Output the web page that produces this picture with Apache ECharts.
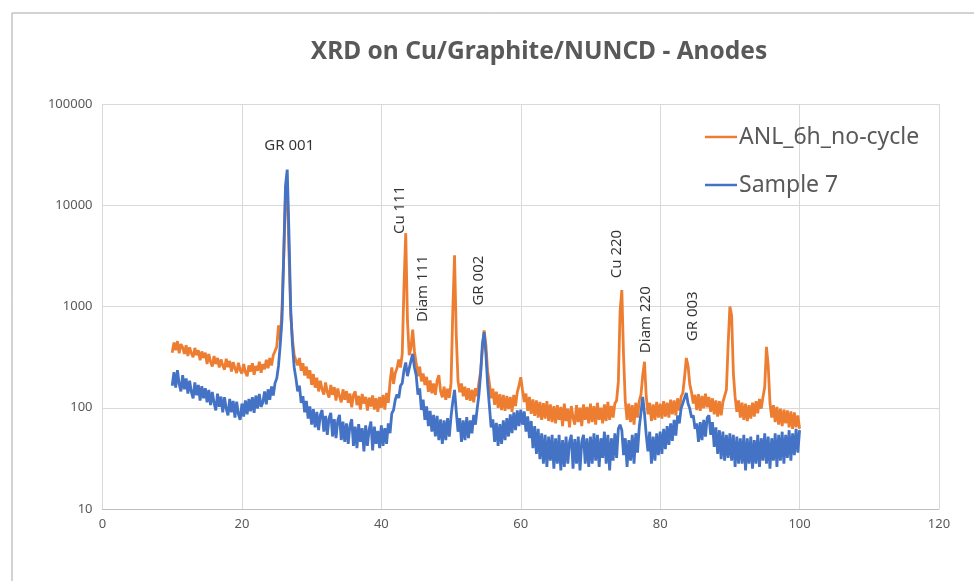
<!DOCTYPE html>
<html>
<head>
<meta charset="utf-8">
<script src="https://cdn.jsdelivr.net/npm/echarts@6/dist/echarts.min.js"></script>
<style>html,body{margin:0;padding:0;background:#fff}#c{width:974px;height:581px}</style>
</head>
<body>
<div id="c"></div>
<script>
// two-theta sampling grid (degrees)
const thetaStart = 10;
const thetaStep = 0.25;

// ANL_6h_no-cycle intensities, one value per 0.25 deg from 10 to 100
const anl = [
 350,440,370,455,345,425,395,340,415,325,395,345,315,390,330,370,295,360,310,350,
 270,340,285,255,325,270,310,250,300,262,238,305,252,290,228,282,245,220,278,235,
 218,270,225,205,262,228,275,212,258,232,285,222,270,240,298,245,310,262,330,340,
 400,650,470,950,3200,12500,16000,3400,820,480,330,345,262,310,232,275,208,255,195,235,
 168,215,158,198,145,185,152,135,178,142,126,168,134,160,118,155,130,113,152,120,
 146,112,138,101,134,145,106,131,96,137,110,128,94,126,103,132,96,124,91,128,
 100,134,96,140,112,180,250,172,220,245,300,250,340,1600,5300,720,330,390,590,360,
 275,205,255,182,218,168,202,144,186,139,174,134,185,210,145,127,161,120,154,125,
 175,900,3200,520,185,142,174,130,161,120,156,117,151,113,156,130,178,230,380,580,
 420,230,175,124,154,107,144,100,136,95,134,93,131,97,128,91,134,104,142,165,
 200,150,114,138,93,128,87,121,83,118,80,114,76,111,78,116,74,108,72,104,
 70,106,76,102,66,110,74,98,64,104,80,68,106,72,100,66,108,76,102,70,
 110,72,104,68,112,76,100,70,108,74,114,76,104,80,110,118,180,900,1450,320,
 115,76,110,72,106,68,112,80,116,135,210,285,130,86,112,74,108,76,114,80,
 110,78,116,82,112,80,120,86,118,84,124,94,128,140,200,310,260,170,142,110,
 134,95,136,93,131,99,138,101,128,91,124,86,118,82,116,84,114,115,150,420,
 1000,820,220,128,91,118,80,112,76,110,74,106,78,112,82,116,88,122,98,128,
 160,400,260,112,80,106,72,102,68,98,66,96,70,94,64,92,62,90,64,84,
 62
];

// Sample 7 intensities, same grid
const sample7 = [
 165,225,158,235,172,145,210,152,195,138,185,143,124,178,133,168,118,163,124,156,
 113,150,106,143,112,94,138,102,129,90,127,98,84,122,90,117,80,115,86,76,
 110,82,118,86,122,92,127,89,132,98,137,102,113,145,108,152,120,162,132,175,
 195,260,420,750,3200,15500,22500,5200,950,420,250,195,145,165,112,130,90,117,78,103,
 68,97,64,91,60,85,95,58,83,54,79,89,52,77,50,75,85,48,73,46,
 70,44,67,77,42,65,40,69,46,63,37,67,42,61,73,38,65,44,59,40,
 67,42,63,44,70,56,88,95,120,135,125,165,175,235,280,205,245,290,340,250,
 210,135,155,95,120,76,103,66,93,58,85,52,83,48,77,44,75,48,79,52,
 82,115,150,92,58,79,46,75,48,81,50,75,56,85,68,98,135,220,430,560,
 340,170,105,64,77,46,71,42,69,44,75,48,79,52,86,56,90,60,94,66,
 96,68,92,58,82,50,74,40,66,35,62,31,56,28,54,26,52,30,54,25,
 50,28,54,24,48,26,52,28,46,54,25,49,28,52,24,46,54,28,50,26,
 52,28,56,30,54,26,50,32,58,28,54,24,50,30,56,32,62,68,60,34,
 50,26,48,30,54,28,56,36,64,90,128,88,54,37,58,28,52,30,56,34,
 58,35,62,39,66,43,70,47,76,53,84,70,98,100,125,140,110,98,80,84,
 62,70,46,72,48,76,52,80,84,54,72,41,64,35,60,31,58,30,54,32,
 56,30,54,26,52,28,50,28,54,24,50,28,52,25,48,28,54,26,50,30,
 56,28,52,25,50,30,56,26,54,30,58,28,54,32,60,30,56,34,62,36,
 60
];

// peak annotations
const annoText   = ['GR 001', 'Cu 111', 'Diam 111', 'GR 002', 'Cu 220', 'Diam 220', 'GR 003'];
const annoTheta  = [26.8, 42.6, 46.0, 54.0, 73.8, 77.9, 84.7];
const annoLevel  = [39000, 9000, 1500, 1800, 3300, 740, 800];
const annoRotate = [0, 90, 90, 90, 90, 90, 90];

// axis ticks
const xMin = 0, xMax = 120, xStep = 20;
const yMin = 10, yMax = 100000;

const toPairs = arr => arr.map((v, i) => [thetaStart + i * thetaStep, v]);

const chart = echarts.init(document.getElementById('c'));
chart.setOption({
  animation: false,
  backgroundColor: '#fff',
  title: {
    text: 'XRD on Cu/Graphite/NUNCD - Anodes',
    left: 534, top: 35, textAlign: 'center',
    textStyle: { fontFamily: 'Noto Sans', fontSize: 24.5, fontWeight: 'bold', color: '#595959' }
  },
  graphic: [{
    type: 'rect', left: 9.5, top: 10.5, silent: true, z: -10,
    shape: { width: 1000, height: 600 },
    style: { fill: 'none', stroke: '#a6a6a6', lineWidth: 1 }
  }],
  legend: {
    data: ['ANL_6h_no-cycle', 'Sample 7'],
    orient: 'vertical', left: 700, top: 119,
    icon: 'rect', itemWidth: 32, itemHeight: 2.5, itemGap: 22,
    textStyle: { fontFamily: 'Noto Sans', fontSize: 23, color: '#595959', lineHeight: 26, padding: [0, 0, 0, -3] }
  },
  grid: { left: 102.5, right: 35, top: 104, bottom: 72 },
  xAxis: {
    type: 'value', min: xMin, max: xMax, interval: xStep,
    axisLine: { show: true, lineStyle: { color: '#bfbfbf' } },
    axisTick: { show: false },
    splitLine: { show: true, lineStyle: { color: '#d9d9d9' } },
    axisLabel: { margin: 9, fontFamily: 'Noto Sans', fontSize: 13, color: '#595959' }
  },
  yAxis: {
    type: 'log', logBase: 10, min: yMin, max: yMax,
    axisLine: { show: false },
    axisTick: { show: false },
    splitLine: { show: true, lineStyle: { color: '#d9d9d9' } },
    axisLabel: { margin: 10, fontFamily: 'Noto Sans', fontSize: 13, color: '#595959', formatter: v => String(Math.round(v)) }
  },
  series: [
    {
      name: 'ANL_6h_no-cycle', type: 'line', data: toPairs(anl),
      symbol: 'none', color: '#ED7D31',
      lineStyle: { width: 2.8, color: '#ED7D31' }, z: 2
    },
    {
      name: 'Sample 7', type: 'line', data: toPairs(sample7),
      symbol: 'none', color: '#4472C4',
      lineStyle: { width: 2.8, color: '#4472C4' }, z: 3
    },
    {
      name: 'labels', type: 'scatter', symbolSize: 0, silent: true, z: 5,
      data: annoText.map((t, i) => ({
        value: [annoTheta[i], annoLevel[i]], name: t,
        label: { rotate: annoRotate[i] }
      })),
      label: {
        show: true, position: 'inside', formatter: p => p.name,
        fontFamily: 'Noto Sans', fontSize: 15, color: '#000'
      }
    }
  ]
});
</script>
</body>
</html>
